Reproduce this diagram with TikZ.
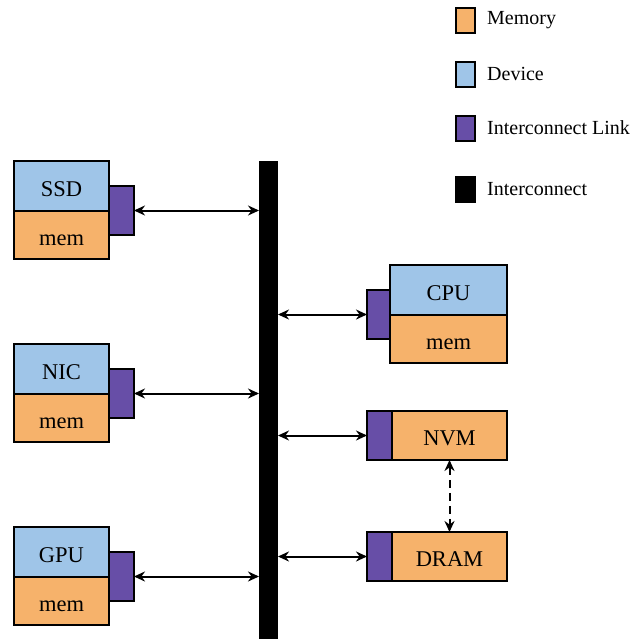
\documentclass[tikz,border=0pt]{standalone}
\usepackage{fontspec}
\setmainfont{Liberation Serif}
\usetikzlibrary{arrows.meta}
\definecolor{memcol}{HTML}{F6B26B}
\definecolor{devcol}{HTML}{9FC5E8}
\definecolor{linkcol}{HTML}{674EA7}
\tikzset{
  box/.style={draw=black, line width=2pt, inner sep=0pt, outer sep=0pt,
    text height=20pt, text depth=0pt, font=\fontsize{22.5}{26}\selectfont},
  devbox/.style={box, fill=devcol, minimum width=95pt, minimum height=50pt},
  membox/.style={box, fill=memcol, minimum width=95pt, minimum height=48pt},
  linkbox/.style={box, fill=linkcol, minimum width=25pt, minimum height=49pt},
  legbox/.style={draw=black, line width=2pt, minimum width=19pt, minimum height=25pt, inner sep=0pt, outer sep=0pt},
  legtext/.style={anchor=west, inner sep=0pt, font=\fontsize{20}{24}\selectfont},
  conn/.style={line width=2pt, {Stealth[length=11pt,width=10pt]}-{Stealth[length=11pt,width=10pt]}}
}
\begin{document}
\begin{tikzpicture}[x=1pt,y=-1pt]
\useasboundingbox (0,0) rectangle (638,639);

% interconnect bus
\fill[black] (259,161) rectangle (278,639);
\coordinate (busL) at (259,400);
\coordinate (busR) at (278,400);

% left-hand devices
\node[devbox] (ssd) at (61.5,186) {SSD};
\node[membox] (ssdmem) at (61.5,235) {mem};
\node[linkbox] (ssdlink) at (121.5,210.5) {};

\node[devbox] (nic) at (61.5,369) {NIC};
\node[membox] (nicmem) at (61.5,418) {mem};
\node[linkbox] (niclink) at (121.5,393.5) {};

\node[devbox] (gpu) at (61.5,552) {GPU};
\node[membox] (gpumem) at (61.5,601) {mem};
\node[linkbox] (gpulink) at (121.5,576.5) {};

% right-hand devices
\node[devbox, minimum width=117pt] (cpu) at (448.5,290) {CPU};
\node[membox, minimum width=117pt] (cpumem) at (448.5,339) {mem};
\node[linkbox, minimum width=23pt] (cpulink) at (378.5,314.5) {};

\node[membox, minimum width=115pt, minimum height=49pt] (nvm) at (449.5,435.5) {NVM};
\node[linkbox] (nvmlink) at (379.5,435.5) {};

\node[membox, minimum width=115pt, minimum height=49pt] (dram) at (449.5,556.5) {DRAM};
\node[linkbox] (dramlink) at (379.5,556.5) {};

% links to the bus
\draw[conn] (ssdlink.east) -- (busL |- ssdlink.east);
\draw[conn] (niclink.east) -- (busL |- niclink.east);
\draw[conn] (gpulink.east) -- (busL |- gpulink.east);
\draw[conn] (busR |- cpulink.west) -- (cpulink.west);
\draw[conn] (busR |- nvmlink.west) -- (nvmlink.west);
\draw[conn] (busR |- dramlink.west) -- (dramlink.west);
\draw[conn, dash pattern=on 8pt off 5pt] (nvm.south) -- (dram.north);

% legend
\node[legbox, fill=memcol] (lmem) at (465.5,20.5) {};
\node[legtext] at (487,20) {Memory};
\node[legbox, fill=devcol] (ldev) at (465.5,74.5) {};
\node[legtext] at (487,74) {Device};
\node[legbox, fill=linkcol] (llink) at (465.5,128.5) {};
\node[legtext] at (487,128) {Interconnect Link};
\node[legbox, fill=black] (lbus) at (465.5,189.5) {};
\node[legtext] at (487,189) {Interconnect};
\end{tikzpicture}
\end{document}
